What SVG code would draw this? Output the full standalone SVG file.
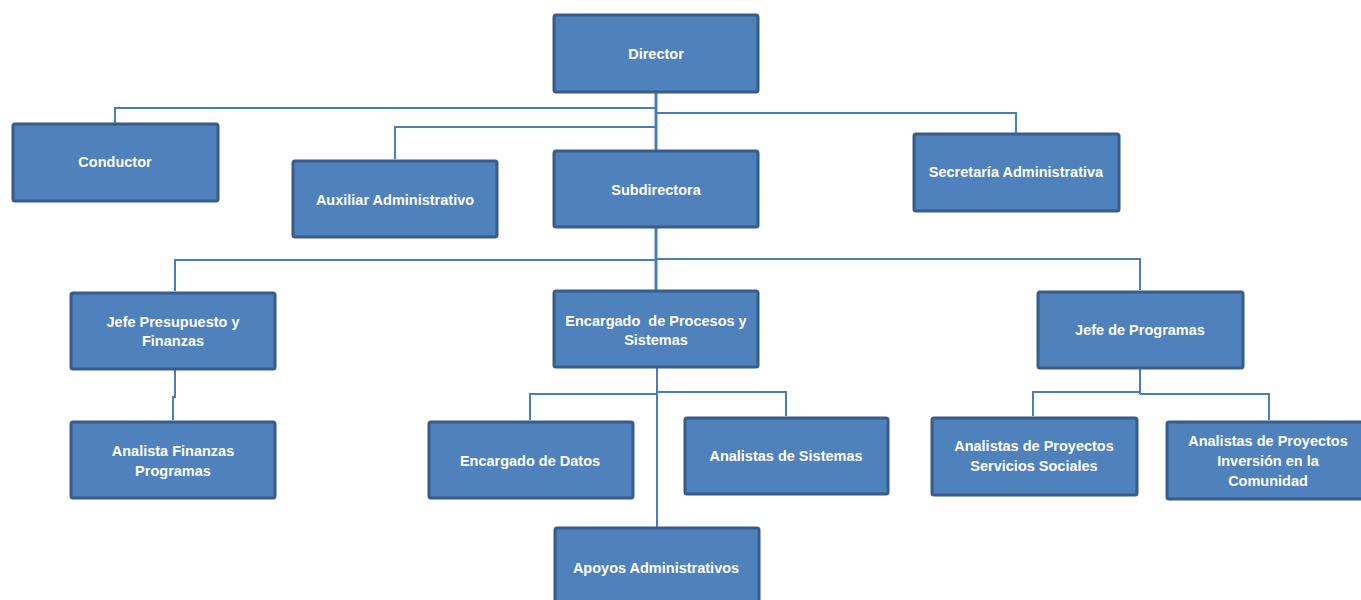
<svg xmlns="http://www.w3.org/2000/svg" width="1361" height="600" viewBox="0 0 1361 600">
  <style>
    .box { fill: #4F81BD; stroke: #385D8A; stroke-width: 3; }
    .lbl { font-family: "Liberation Sans", Arial, sans-serif; font-weight: bold; font-size: 14.5px; fill: #FFFFFF; text-anchor: middle; dominant-baseline: central; white-space: pre; }
    .ln { fill: none; stroke: #4A7EBB; stroke-width: 2; }
    .trunk { fill: none; stroke: #4A7EBB; stroke-width: 3; }
  </style>
  <rect width="1361" height="600" fill="#FFFFFF"/>

  <g id="connectors">
    <!-- Director branches -->
    <path class="trunk" d="M656,93 V150"/>
    <path class="ln" d="M656,108 H115 V123"/>
    <path class="ln" d="M656,127 H395 V159"/>
    <path class="ln" d="M656,113 H1016 V133"/>
    <!-- Subdirectora branches -->
    <path class="trunk" d="M656,227 V290"/>
    <path class="ln" d="M656,260 H175 V291"/>
    <path class="ln" d="M656,259 H1140 V290"/>
    <!-- Jefe Presupuesto to Analista -->
    <path class="ln" d="M175,369 V397 H173 V420"/>
    <!-- Encargado de Procesos branches -->
    <path class="ln" d="M657,367 V527"/>
    <path class="ln" d="M657,394 H530 V420"/>
    <path class="ln" d="M657,392 H786 V416"/>
    <!-- Jefe de Programas branches -->
    <path class="ln" d="M1140,368 V394"/>
    <path class="ln" d="M1140,392 H1033 V416"/>
    <path class="ln" d="M1140,394 H1269 V420"/>
  </g>

  <g id="director">
    <rect class="box" x="554" y="15" width="204" height="77" rx="2"/>
    <text class="lbl" x="656" y="54">Director</text>
  </g>
  <g id="conductor">
    <rect class="box" x="13" y="124" width="205" height="77" rx="2"/>
    <text class="lbl" x="115" y="162">Conductor</text>
  </g>
  <g id="auxiliar">
    <rect class="box" x="293" y="161" width="204" height="76" rx="2"/>
    <text class="lbl" x="395" y="200">Auxiliar Administrativo</text>
  </g>
  <g id="subdirectora">
    <rect class="box" x="554" y="151" width="204" height="76" rx="2"/>
    <text class="lbl" x="656" y="190">Subdirectora</text>
  </g>
  <g id="secretaria">
    <rect class="box" x="914" y="134" width="205" height="77" rx="2"/>
    <text class="lbl" x="1016" y="172">Secretaría Administrativa</text>
  </g>
  <g id="jefe-presupuesto">
    <rect class="box" x="71" y="293" width="204" height="76" rx="2"/>
    <text class="lbl" x="173" y="322">Jefe Presupuesto y</text>
    <text class="lbl" x="173" y="341">Finanzas</text>
  </g>
  <g id="encargado-procesos">
    <rect class="box" x="554" y="291" width="204" height="76" rx="2"/>
    <text class="lbl" x="656" y="321">Encargado  de Procesos y</text>
    <text class="lbl" x="656" y="340">Sistemas</text>
  </g>
  <g id="jefe-programas">
    <rect class="box" x="1038" y="292" width="205" height="76" rx="2"/>
    <text class="lbl" x="1140" y="330">Jefe de Programas</text>
  </g>
  <g id="analista-finanzas">
    <rect class="box" x="71" y="422" width="204" height="76" rx="2"/>
    <text class="lbl" x="173" y="451">Analista Finanzas</text>
    <text class="lbl" x="173" y="471">Programas</text>
  </g>
  <g id="encargado-datos">
    <rect class="box" x="429" y="422" width="204" height="76" rx="2"/>
    <text class="lbl" x="530" y="461">Encargado de Datos</text>
  </g>
  <g id="analistas-sistemas">
    <rect class="box" x="685" y="418" width="203" height="76" rx="2"/>
    <text class="lbl" x="786" y="456">Analistas de Sistemas</text>
  </g>
  <g id="apoyos">
    <rect class="box" x="555" y="528" width="204" height="80" rx="2"/>
    <text class="lbl" x="656" y="568">Apoyos Administrativos</text>
  </g>
  <g id="analistas-sociales">
    <rect class="box" x="932" y="418" width="205" height="77" rx="2"/>
    <text class="lbl" x="1034" y="446">Analistas de Proyectos</text>
    <text class="lbl" x="1034" y="466">Servicios Sociales</text>
  </g>
  <g id="analistas-inversion">
    <rect class="box" x="1167" y="422" width="205" height="77" rx="2"/>
    <text class="lbl" x="1268" y="441">Analistas de Proyectos</text>
    <text class="lbl" x="1268" y="461">Inversión en la</text>
    <text class="lbl" x="1268" y="481">Comunidad</text>
  </g>
</svg>
